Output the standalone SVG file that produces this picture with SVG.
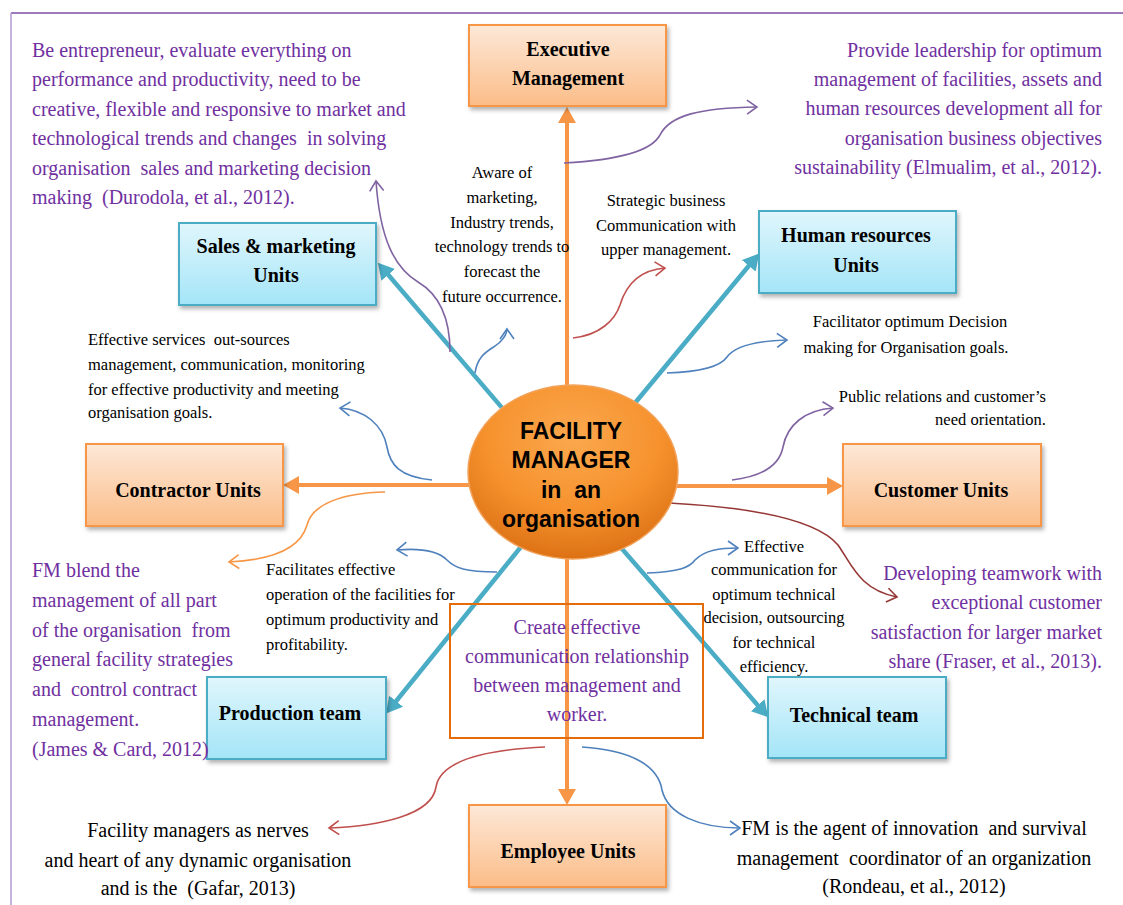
<svg xmlns="http://www.w3.org/2000/svg" width="1123" height="905" viewBox="0 0 1123 905">
  <defs>
    <linearGradient id="gOrange" x1="0" y1="0" x2="0" y2="1">
      <stop offset="0" stop-color="#fde8d8"/>
      <stop offset="1" stop-color="#fbbd88"/>
    </linearGradient>
    <linearGradient id="gBlue" x1="0" y1="0" x2="0" y2="1">
      <stop offset="0" stop-color="#e0f6fc"/>
      <stop offset="1" stop-color="#a4e5f8"/>
    </linearGradient>
    <radialGradient id="gCore" cx="0.5" cy="0.3" r="0.75">
      <stop offset="0" stop-color="#fba84e"/>
      <stop offset="0.55" stop-color="#f6922e"/>
      <stop offset="1" stop-color="#d86c10"/>
    </radialGradient>
    <filter id="shadow" x="-10%" y="-10%" width="125%" height="130%">
      <feDropShadow dx="2" dy="3" stdDeviation="2" flood-color="#000" flood-opacity="0.3"/>
    </filter>
    <marker id="headOrange" markerUnits="userSpaceOnUse" markerWidth="16" markerHeight="18" refX="5" refY="9" orient="auto">
      <path d="M0,0 L16,9 L0,18 z" fill="#f79646"/>
    </marker>
    <marker id="headTeal" markerUnits="userSpaceOnUse" markerWidth="16" markerHeight="18" refX="5" refY="9" orient="auto">
      <path d="M0,0 L16,9 L0,18 z" fill="#4bacc6"/>
    </marker>
    <marker id="vPurple" markerUnits="userSpaceOnUse" markerWidth="14" markerHeight="16" refX="11" refY="8" orient="auto">
      <path d="M1,1 L11,8 L1,15" fill="none" stroke="#8064a2" stroke-width="1.6"/>
    </marker>
    <marker id="vBlue" markerUnits="userSpaceOnUse" markerWidth="14" markerHeight="16" refX="11" refY="8" orient="auto">
      <path d="M1,1 L11,8 L1,15" fill="none" stroke="#4f81bd" stroke-width="1.6"/>
    </marker>
    <marker id="vRed" markerUnits="userSpaceOnUse" markerWidth="14" markerHeight="16" refX="11" refY="8" orient="auto">
      <path d="M1,1 L11,8 L1,15" fill="none" stroke="#c0504d" stroke-width="1.6"/>
    </marker>
    <marker id="vDark" markerUnits="userSpaceOnUse" markerWidth="14" markerHeight="16" refX="11" refY="8" orient="auto">
      <path d="M1,1 L11,8 L1,15" fill="none" stroke="#953735" stroke-width="1.6"/>
    </marker>
    <marker id="vOrange" markerUnits="userSpaceOnUse" markerWidth="14" markerHeight="16" refX="11" refY="8" orient="auto">
      <path d="M1,1 L11,8 L1,15" fill="none" stroke="#f79646" stroke-width="1.6"/>
    </marker>
  </defs>
  <style>
    .serif { font-family: "Liberation Serif", "Times New Roman", serif; }
    .note { font-family: "Liberation Serif", "Times New Roman", serif; font-size: 16.5px; fill: #000; }
    .quote { font-family: "Liberation Serif", "Times New Roman", serif; font-size: 20px; fill: #7030a0; white-space: pre; }
    .big { font-family: "Liberation Serif", "Times New Roman", serif; font-size: 20px; fill: #000; white-space: pre; }
    .label { font-family: "Liberation Serif", "Times New Roman", serif; font-size: 20px; font-weight: bold; fill: #000; text-anchor: middle; }
    .boxO { fill: url(#gOrange); stroke: #f79646; stroke-width: 2; filter: url(#shadow); }
    .boxB { fill: url(#gBlue); stroke: #4bacc6; stroke-width: 2; filter: url(#shadow); }
    .thickO { stroke: #f79646; stroke-width: 4; fill: none; marker-end: url(#headOrange); }
    .thickT { stroke: #4bacc6; stroke-width: 4.5; fill: none; marker-end: url(#headTeal); }
    .thin { fill: none; stroke-width: 1.6; }
    .mid { text-anchor: middle; }
    .end { text-anchor: end; }
  </style>

  <rect width="1123" height="905" fill="#fff"/>

  <!-- page frame -->
  <line x1="11" y1="13" x2="1123" y2="13" stroke="#7f4fa8" stroke-width="1.5"/>
  <line x1="11" y1="13" x2="11" y2="905" stroke="#b49ad4" stroke-width="1.5"/>

  <!-- connectors -->
  <g id="connectors">
    <!-- main orange spokes -->
    <line class="thickO" x1="567" y1="472" x2="567" y2="118"/>
    <line class="thickO" x1="567" y1="472" x2="567" y2="794"/>
    <line class="thickO" x1="567" y1="485" x2="294" y2="485"/>
    <line class="thickO" x1="567" y1="486" x2="832" y2="486"/>
    <!-- teal diagonal spokes -->
    <line class="thickT" x1="545" y1="458" x2="385" y2="271"/>
    <line class="thickT" x1="586" y1="462" x2="752" y2="262"/>
    <line class="thickT" x1="558" y1="501" x2="393" y2="705"/>
    <line class="thickT" x1="584" y1="505" x2="761" y2="709"/>

    <!-- annotation curves -->
    <path class="thin" stroke="#8064a2" marker-end="url(#vPurple)" d="M450,352 C450,320 440,295 418,282 C395,268 380,240 376,181"/>
    <path class="thin" stroke="#4f81bd" marker-end="url(#vBlue)" d="M475,373 C478,352 492,350 500,342 C505,337 507,333 507,329"/>
    <path class="thin" stroke="#8064a2" marker-end="url(#vPurple)" d="M564,163 C620,160 652,150 660,135 C670,115 700,108 757,107"/>
    <path class="thin" stroke="#c0504d" marker-end="url(#vRed)" d="M573,338 C600,335 615,320 620,305 C626,285 640,270 665,268"/>
    <path class="thin" stroke="#4f81bd" marker-end="url(#vBlue)" d="M667,373 C700,372 720,367 727,357 C735,346 755,341 787,340"/>
    <path class="thin" stroke="#8064a2" marker-end="url(#vPurple)" d="M732,480 C765,476 780,463 783,447 C787,425 805,410 833,408"/>
    <path class="thin" stroke="#953735" marker-end="url(#vDark)" d="M669,503 C745,507 815,518 838,545 C852,565 860,590 897,597"/>
    <path class="thin" stroke="#4f81bd" marker-end="url(#vBlue)" d="M432,480 C400,477 390,465 387,447 C383,425 365,410 340,408"/>
    <path class="thin" stroke="#f79646" marker-end="url(#vOrange)" d="M385,492 C340,493 312,505 307,525 C300,550 270,560 229,562"/>
    <path class="thin" stroke="#4f81bd" marker-end="url(#vBlue)" d="M497,572 C465,572 455,568 447,560 C437,550 420,548 397,550"/>
    <path class="thin" stroke="#4f81bd" marker-end="url(#vBlue)" d="M647,573 C680,572 690,567 695,560 C705,550 720,548 738,548"/>
    <path class="thin" stroke="#c0504d" marker-end="url(#vRed)" d="M545,747 C480,750 440,762 436,787 C432,815 380,826 329,828"/>
    <path class="thin" stroke="#4f81bd" marker-end="url(#vBlue)" d="M582,747 C630,750 658,765 662,790 C668,815 700,828 740,828"/>
  </g>

  <!-- centre node -->
  <g id="facility-manager">
    <ellipse cx="573" cy="472" rx="105" ry="87" fill="url(#gCore)" stroke="#f2a25a" stroke-width="1.5"/>
    <g font-family="'Liberation Sans', Arial, sans-serif" font-weight="bold" font-size="23" text-anchor="middle" fill="#000">
      <text x="571" y="439">FACILITY</text>
      <text x="571" y="468">MANAGER</text>
      <text x="571" y="498" xml:space="preserve">in  an</text>
      <text x="571" y="527">organisation</text>
    </g>
  </g>

  <g id="executive-management">
    <rect class="boxO" x="469" y="25" width="197" height="81"/>
    <text class="label" x="568" y="56">Executive</text>
    <text class="label" x="568" y="85">Management</text>
  </g>

  <g id="sales-marketing">
    <rect class="boxB" x="179" y="223" width="197" height="82"/>
    <text class="label" x="276" y="253">Sales &amp; marketing</text>
    <text class="label" x="276" y="282">Units</text>
  </g>

  <g id="human-resources">
    <rect class="boxB" x="759" y="211" width="197" height="82"/>
    <text class="label" x="856" y="242">Human resources</text>
    <text class="label" x="856" y="272">Units</text>
  </g>

  <g id="contractor-units">
    <rect class="boxO" x="86" y="444" width="197" height="82"/>
    <text class="label" x="188" y="497">Contractor Units</text>
  </g>

  <g id="customer-units">
    <rect class="boxO" x="843" y="444" width="198" height="82"/>
    <text class="label" x="941" y="497">Customer Units</text>
  </g>

  <g id="production-team">
    <rect class="boxB" x="207" y="677" width="179" height="82"/>
    <text class="label" x="290" y="720">Production team</text>
  </g>

  <g id="technical-team">
    <rect class="boxB" x="768" y="677" width="178" height="81"/>
    <text class="label" x="854" y="722">Technical team</text>
  </g>

  <g id="employee-units">
    <rect class="boxO" x="469" y="805" width="197" height="82"/>
    <text class="label" x="568" y="858">Employee Units</text>
  </g>

  <g id="communication-box">
    <rect x="450" y="604" width="253" height="134" fill="none" stroke="#e46c0a" stroke-width="2"/>
    <text class="quote mid" x="577" y="634">Create effective</text>
    <text class="quote mid" x="577" y="663">communication relationship</text>
    <text class="quote mid" x="577" y="692">between management and</text>
    <text class="quote mid" x="577" y="721">worker.</text>
  </g>

  <!-- quoted roles (purple) -->
  <g id="role-sales">
    <text class="quote" x="32" y="57">Be entrepreneur, evaluate everything on</text>
    <text class="quote" x="32" y="86">performance and productivity, need to be</text>
    <text class="quote" x="32" y="116">creative, flexible and responsive to market and</text>
    <text class="quote" x="32" y="145">technological trends and changes  in solving</text>
    <text class="quote" x="32" y="175">organisation  sales and marketing decision</text>
    <text class="quote" x="32" y="204">making  (Durodola, et al., 2012).</text>
  </g>

  <g id="role-leadership">
    <text class="quote end" x="1102" y="57">Provide leadership for optimum</text>
    <text class="quote end" x="1102" y="86">management of facilities, assets and</text>
    <text class="quote end" x="1102" y="115">human resources development all for</text>
    <text class="quote end" x="1102" y="145">organisation business objectives</text>
    <text class="quote end" x="1102" y="174">sustainability (Elmualim, et al., 2012).</text>
  </g>

  <g id="role-blend">
    <text class="quote" x="32" y="577">FM blend the</text>
    <text class="quote" x="32" y="607">management of all part</text>
    <text class="quote" x="32" y="637">of the organisation  from</text>
    <text class="quote" x="32" y="666">general facility strategies</text>
    <text class="quote" x="32" y="696">and  control contract</text>
    <text class="quote" x="32" y="726">management.</text>
    <text class="quote" x="32" y="756">(James &amp; Card, 2012)</text>
  </g>

  <g id="role-teamwork">
    <text class="quote end" x="1102" y="580">Developing teamwork with</text>
    <text class="quote end" x="1102" y="609">exceptional customer</text>
    <text class="quote end" x="1102" y="639">satisfaction for larger market</text>
    <text class="quote end" x="1102" y="668">share (Fraser, et al., 2013).</text>
  </g>

  <!-- short notes (black) -->
  <g id="note-aware">
    <text class="note mid" x="502" y="178">Aware of</text>
    <text class="note mid" x="502" y="203">marketing,</text>
    <text class="note mid" x="502" y="228">Industry trends,</text>
    <text class="note mid" x="502" y="252">technology trends to</text>
    <text class="note mid" x="502" y="277">forecast the</text>
    <text class="note mid" x="502" y="302">future occurrence.</text>
  </g>

  <g id="note-strategic">
    <text class="note mid" x="666" y="206">Strategic business</text>
    <text class="note mid" x="666" y="231">Communication with</text>
    <text class="note mid" x="666" y="255">upper management.</text>
  </g>

  <g id="note-decision">
    <text class="note mid" x="910" y="327">Facilitator optimum Decision</text>
    <text class="note mid" x="906" y="353">making for Organisation goals.</text>
  </g>

  <g id="note-public">
    <text class="note end" x="1046" y="402">Public relations and customer’s</text>
    <text class="note end" x="1046" y="425">need orientation.</text>
  </g>

  <g id="note-outsource">
    <text class="note" x="88" y="345" xml:space="preserve">Effective services  out-sources</text>
    <text class="note" x="88" y="370">management, communication, monitoring</text>
    <text class="note" x="88" y="395">for effective productivity and meeting</text>
    <text class="note" x="88" y="418">organisation goals.</text>
  </g>

  <g id="note-operation">
    <text class="note" x="266" y="575">Facilitates effective</text>
    <text class="note" x="266" y="600">operation of the facilities for</text>
    <text class="note" x="266" y="625">optimum productivity and</text>
    <text class="note" x="266" y="650">profitability.</text>
  </g>

  <g id="note-technical">
    <text class="note mid" x="774" y="552">Effective</text>
    <text class="note mid" x="774" y="575">communication for</text>
    <text class="note mid" x="774" y="600">optimum technical</text>
    <text class="note mid" x="774" y="623">decision, outsourcing</text>
    <text class="note mid" x="774" y="648">for technical</text>
    <text class="note mid" x="774" y="672">efficiency.</text>
  </g>

  <g id="note-nerves">
    <text class="big mid" x="198" y="837">Facility managers as nerves</text>
    <text class="big mid" x="198" y="867">and heart of any dynamic organisation</text>
    <text class="big mid" x="198" y="895">and is the  (Gafar, 2013)</text>
  </g>

  <g id="note-innovation">
    <text class="big mid" x="914" y="835">FM is the agent of innovation  and survival</text>
    <text class="big mid" x="914" y="865">management  coordinator of an organization</text>
    <text class="big mid" x="914" y="893">(Rondeau, et al., 2012)</text>
  </g>
</svg>
